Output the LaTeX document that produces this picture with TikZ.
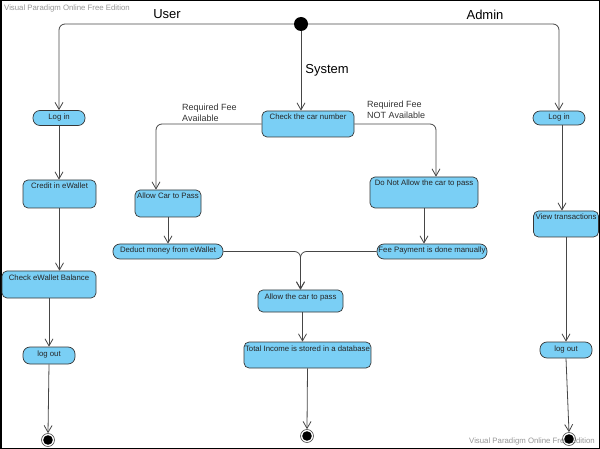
\documentclass[tikz,border=0pt]{standalone}
\usepackage{fontspec}
\setmainfont{Liberation Sans}
\usepackage{xcolor}
\usetikzlibrary{arrows.meta}
\definecolor{actblue}{RGB}{122,207,245}
\definecolor{actline}{RGB}{55,55,55}
\definecolor{flowline}{RGB}{70,70,70}
\definecolor{wmgray}{RGB}{150,150,150}

\begin{document}
\begin{tikzpicture}[x=1pt,y=-1pt,
    act/.style={draw=actline,fill=actblue,line width=0.7pt,rounded corners=5pt,inner xsep=1pt,inner ysep=2pt,text height=7pt,font=\fontsize{7.8}{9}\selectfont,text=black!85},
    pill/.style={act,rounded corners=7pt,text depth=#1},
    tallact/.style={act,text depth=#1},
    flow/.style={draw=flowline,line width=0.8pt,-{Straight Barb[length=7pt,width=8pt]}},
    startdot/.style={circle,fill=black,minimum size=14pt,inner sep=0pt},
    enddot/.style={circle,draw=black!70,line width=0.6pt,minimum size=13pt,inner sep=0pt,path picture={\fill[black] (path picture bounding box.center) circle (4.8pt);}},
    lane/.style={font=\fontsize{13}{15}\selectfont},
    guard/.style={font=\fontsize{9}{10.5}\selectfont,align=left,inner sep=0pt,anchor=north west,text=black!80},
    wmark/.style={font=\fontsize{7.8}{9}\selectfont,text=wmgray,inner sep=0pt,anchor=west}]
    \useasboundingbox (0,0) rectangle (600,449);
    \draw[line width=1.5pt] (0.75,0.75) rectangle (599.25,448.25);
    \node[wmark] (wmtop) at (4,8) {Visual Paradigm Online Free Edition};
    \node[wmark] (wmbot) at (469,441) {Visual Paradigm Online Free Edition};

    \node[startdot] (start) at (301,24) {};
    \node[lane] (user) at (167,14) {User};
    \node[lane] (admin) at (485,15) {Admin};
    \node[lane] (system) at (327,70) {System};

    \node[pill=4pt,minimum width=52pt] (ulogin) at (59,118) {Log in};
    \node[tallact=17pt,minimum width=73pt] (ucredit) at (59.5,194) {Credit in eWallet};
    \node[tallact=16pt,minimum width=94pt] (ucheck) at (49,284.5) {Check eWallet Balance};
    \node[pill=6pt,minimum width=52pt] (ulogout) at (49,355.5) {log out};
    \node[enddot] (uend) at (48,440) {};

    \node[tallact=15pt,minimum width=92pt] (check) at (308,124) {Check the car number};
    \node[tallact=16pt,minimum width=66pt] (allowpass) at (168,203.5) {Allow Car to Pass};
    \node[pill=4pt,minimum width=110pt] (deduct) at (168,251.5) {Deduct money from eWallet};
    \node[tallact=20pt,minimum width=108pt] (notallow) at (424,192.5) {Do Not Allow the car to pass};
    \node[pill=4pt,minimum width=110pt] (feepay) at (432,251.5) {Fee Payment is done manually};
    \node[tallact=11pt,minimum width=85pt] (allowcar) at (300.5,301) {Allow the car to pass};
    \node[tallact=15pt,minimum width=125pt] (income) at (307.5,355) {Total Income is stored in a database};
    \node[enddot] (send) at (307,436) {};

    \node[pill=3pt,minimum width=52pt] (alogin) at (559,118) {Log in};
    \node[tallact=15pt,minimum width=65pt] (aview) at (566,224) {View transactions};
    \node[pill=5pt,minimum width=52pt] (alogout) at (566,350) {log out};
    \node[enddot] (aend) at (569,439) {};

    \node[guard] (lblavail) at (182,104) {Required Fee\\Available};
    \node[guard] (lblnot) at (367,101) {Required Fee\\NOT Available};

    \draw[flow,rounded corners=6pt] (start.west) -| (ulogin.north);
    \draw[flow,rounded corners=6pt] (start.east) -| (alogin.north);
    \draw[flow] (start.south) -- (start.south |- check.north);

    \draw[flow] (ulogin.south) -- (ulogin.south |- ucredit.north);
    \draw[flow] (ucredit.south) -- (ucredit.south |- ucheck.north);
    \draw[flow] (ucheck.south) -- (ucheck.south |- ulogout.north);
    \draw[flow] (ulogout.south) -- (uend.north);

    \draw[flow,rounded corners=6pt] (check.west) -| ([xshift=-12pt]allowpass.north);
    \draw[flow,rounded corners=6pt] (check.east) -| ([xshift=12pt]notallow.north);
    \draw[flow] (allowpass.south) -- (allowpass.south |- deduct.north);
    \draw[flow] (notallow.south) -- (notallow.south |- feepay.north);
    \draw[flow,rounded corners=6pt] (deduct.east) -| (allowcar.north);
    \draw[flow,rounded corners=6pt] (feepay.west) -| (allowcar.north);
    \draw[flow] ([xshift=2pt]allowcar.south) -- ([xshift=2pt]allowcar.south |- income.north);
    \draw[flow] (income.south) -- (send.north);

    \draw[flow] ([xshift=3pt]alogin.south) -- ([xshift=3pt]alogin.south |- aview.north);
    \draw[flow] (aview.south) -- (alogout.north);
    \draw[flow] (alogout.south) -- (aend.north);
\end{tikzpicture}
\end{document}
